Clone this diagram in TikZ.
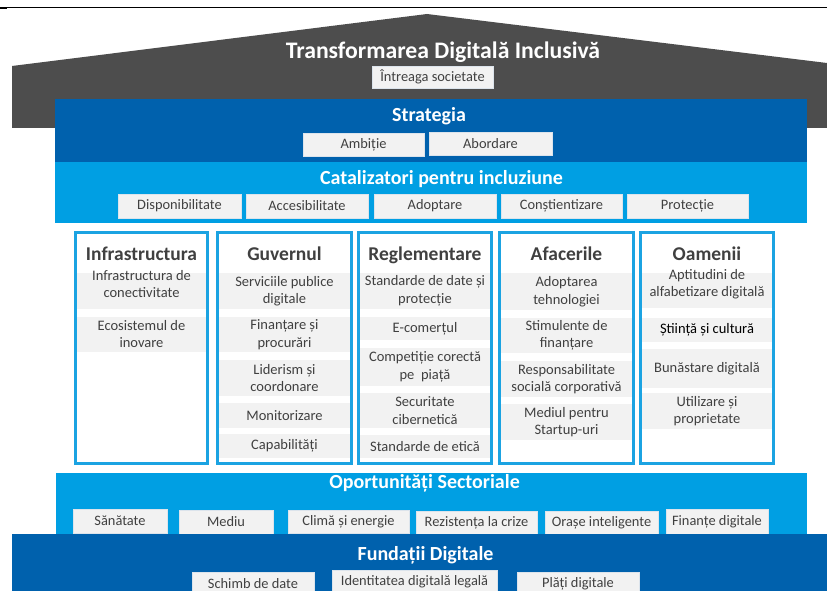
\documentclass[tikz,border=0pt]{standalone}
\usepackage{fontspec}
\setmainfont{Carlito}
\definecolor{roof}{HTML}{4D4D4D}
\definecolor{dblue}{HTML}{0061AD}
\definecolor{lblue}{HTML}{009FE3}
\definecolor{pborder}{HTML}{1BA3E2}
\definecolor{boxgray}{HTML}{F2F2F2}
\definecolor{boxedge}{HTML}{DCE4EC}
\definecolor{txt}{HTML}{404040}
\tikzset{
  lbl/.style={fill=boxgray, draw=boxedge, line width=0.6pt, inner sep=0pt, text=txt,
    font=\fontsize{14.4}{17}\selectfont},
  bandtitle/.style={text=white, inner sep=0pt, font=\bfseries\fontsize{20}{24}\selectfont},
  ptitle/.style={text=txt, anchor=base, inner sep=0pt, font=\bfseries\fontsize{19.5}{23}\selectfont},
  item/.style={text=txt, align=center, inner sep=0pt, font=\fontsize{14.5}{17.5}\selectfont},
  pillarbox/.style={draw=pborder, line width=3pt},
  rowfill/.style={fill=boxgray},
}
\newcommand\prow[4]{\fill[rowfill] (#1+3,#3) rectangle (#2-3,#4);}
\newcommand\pbox[2]{\draw[pillarbox] (#1+1.5,232.5) rectangle (#2-1.5,463.5);}
\begin{document}
\begin{tikzpicture}[x=1pt,y=-1pt]
\useasboundingbox (0,0) rectangle (827,591);
\fill[white] (0,0) rectangle (827,591);
% top rule
\draw[line width=1pt] (0,8) -- (827,8);
\draw[line width=2pt] (0,8.5) -- (7,8.5);
% roof
\fill[roof] (12,128) -- (12,66) -- (427,14) -- (827,63) -- (827,128) -- cycle;
\node[text=white, inner sep=0pt, font=\bfseries\fontsize{23.7}{28}\selectfont] (title) at (443,52) {Transformarea Digitală Inclusivă};
\node[lbl, minimum width=121pt, minimum height=22pt] (soc) at (432.5,77) {Întreaga societate};
% strategia
\fill[dblue] (55,99) rectangle (807,162);
\node[bandtitle] (strat) at (429,116) {Strategia};
\node[lbl, minimum width=121pt, minimum height=23pt] (amb) at (363.5,144.5) {Ambiție};
\node[lbl, minimum width=123pt, minimum height=23pt] (abo) at (490.5,143.5) {Abordare};
% catalizatori
\fill[lblue] (55,162) rectangle (807,223);
\node[bandtitle] (cat) at (441.5,179) {Catalizatori pentru incluziune};
\node[lbl, minimum width=123pt, minimum height=24pt] (c1) at (179.5,206) {Disponibilitate};
\node[lbl, minimum width=122pt, minimum height=24pt] (c2) at (307,206) {Accesibilitate};
\node[lbl, minimum width=122pt, minimum height=24pt] (c3) at (435,206) {Adoptare};
\node[lbl, minimum width=121pt, minimum height=24pt] (c4) at (561.5,206) {Conștientizare};
\node[lbl, minimum width=121pt, minimum height=24pt] (c5) at (687.5,206) {Protecție};
% pillar 1
\prow{74}{209}{273}{309}
\prow{74}{209}{317}{352}
\pbox{74}{209}
\node[ptitle] (t1) at (141.5,260) {Infrastructura};
\node[item] (p1a) at (141.5,284) {Infrastructura de\\conectivitate};
\node[item] (p1b) at (141.5,334) {Ecosistemul de\\inovare};
% pillar 2
\prow{216}{353}{273}{309}
\prow{216}{353}{317}{352}
\prow{216}{353}{360}{396}
\prow{216}{353}{403}{428}
\prow{216}{353}{434}{458}
\pbox{216}{353}
\node[ptitle] (t2) at (284.5,260) {Guvernul};
\node[item] (p2a) at (284.5,291) {Serviciile publice\\digitale};
\node[item] (p2b) at (284.5,334.5) {Finanțare și\\procurări};
\node[item] (p2c) at (284.5,378) {Liderism și\\coordonare};
\node[item] (p2d) at (284.5,415.5) {Monitorizare};
\node[item] (p2e) at (284.5,446) {Capabilități};
% pillar 3
\prow{357}{493}{273}{309}
\prow{357}{493}{317}{340}
\prow{357}{493}{348}{386}
\prow{357}{493}{393}{428}
\prow{357}{493}{435}{458}
\pbox{357}{493}
\node[ptitle] (t3) at (425,260) {Reglementare};
\node[item] (p3a) at (425,291) {Standarde de date și\\protecție};
\node[item] (p3b) at (425,328.5) {E-comerțul};
\node[item] (p3c) at (425,367) {Competiție corectă\\pe\ \ piață};
\node[item] (p3d) at (425,410.5) {Securitate\\cibernetică};
\node[item] (p3e) at (425,446.5) {Standarde de etică};
% pillar 4
\prow{498}{635}{273}{310}
\prow{498}{635}{318}{353}
\prow{498}{635}{361}{397}
\prow{498}{635}{404}{440}
\pbox{498}{635}
\node[ptitle] (t4) at (566.5,260) {Afacerile};
\node[item] (p4a) at (566.5,291.5) {Adoptarea\\tehnologiei};
\node[item] (p4b) at (566.5,335.5) {Stimulente de\\finanțare};
\node[item] (p4c) at (566.5,379) {Responsabilitate\\socială corporativă};
\node[item] (p4d) at (566.5,422) {Mediul pentru\\Startup-uri};
% pillar 5
\prow{639}{775}{273}{308}
\prow{639}{775}{318}{342}
\prow{639}{775}{349}{388}
\prow{639}{775}{393}{429}
\pbox{639}{775}
\node[ptitle] (t5) at (707,260) {Oamenii};
\node[item] (p5a) at (707,284) {Aptitudini de\\alfabetizare digitală};
\node[item, text=black] (p5b) at (707,330) {Știință și cultură};
\node[item] (p5c) at (707,368.5) {Bunăstare digitală};
\node[item] (p5d) at (707,411) {Utilizare și\\proprietate};
% oportunitati
\fill[lblue] (56,473) rectangle (807,535);
\node[bandtitle] (opt) at (424.5,483) {Oportunități Sectoriale};
\node[lbl, minimum width=94pt, minimum height=24pt] (o1) at (120,521) {Sănătate};
\node[lbl, minimum width=94pt, minimum height=24pt] (o2) at (226,522) {Mediu};
\node[lbl, minimum width=121pt, minimum height=23pt] (o3) at (348.5,521.5) {Climă și energie};
\node[lbl, minimum width=121pt, minimum height=24pt] (o4) at (476.5,523) {Rezistența la crize};
\node[lbl, minimum width=113pt, minimum height=24pt] (o5) at (601.5,523) {Orașe inteligente};
\node[lbl, minimum width=102pt, minimum height=25pt] (o6) at (717,521.5) {Finanțe digitale};
% fundatii
\fill[dblue] (12,534) rectangle (827,591);
\node[bandtitle] (fund) at (425.5,555) {Fundații Digitale};
\fill[boxgray, draw=boxedge, line width=0.6pt] (192,572) rectangle (314,595);
\fill[boxgray, draw=boxedge, line width=0.6pt] (332,570) rectangle (497,595);
\fill[boxgray, draw=boxedge, line width=0.6pt] (517,572) rectangle (639,595);
\node[item, font=\fontsize{14.4}{17}\selectfont] (f1) at (253,583.5) {Schimb de date};
\node[item, font=\fontsize{14.4}{17}\selectfont] (f2) at (414.5,581.5) {Identitatea digitală legală};
\node[item, font=\fontsize{14.4}{17}\selectfont] (f3) at (578,583.5) {Plăți digitale};
\end{tikzpicture}
\end{document}
